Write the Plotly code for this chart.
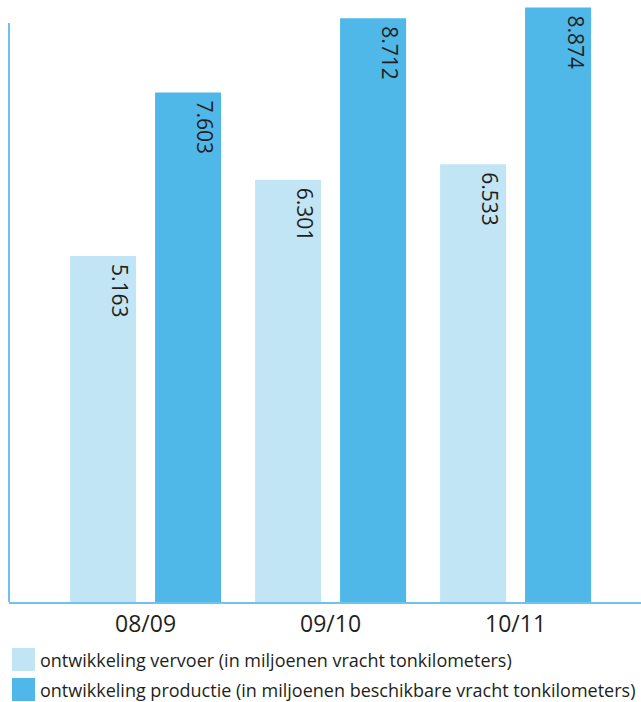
import plotly.graph_objects as go

# Seizoenen en waarden (in miljoenen tonkilometers)
seizoenen = ["08/09", "09/10", "10/11"]
vervoer = [5.163, 6.301, 6.533]
productie = [7.603, 8.712, 8.874]

reeks_namen = [
    "ontwikkeling vervoer (in miljoenen vracht tonkilometers)",
    "ontwikkeling productie (in miljoenen beschikbare vracht tonkilometers)",
]
kleuren = ["#C2E5F6", "#4FB8E8"]
as_kleur = "#6CC4EC"
tekst_kleur = "#231F20"
lettertype = "Open Sans"

W, H = 641, 702
M_L, M_R, M_T, M_B = 9, 0, 0, 100
plot_w = W - M_L - M_R
plot_h = H - M_T - M_B


def px_x(x):
    return (x - M_L) / plot_w


def px_y(y):
    return (H - M_B - y) / plot_h


fig = go.Figure()

reeksen = [vervoer, productie]
offsets = [-0.408, 0.0514]
breedte = 0.357
label_shift = [-25.5, 59.5]

for naam, waarden, kleur, off in zip(reeks_namen, reeksen, kleuren, offsets):
    fig.add_trace(go.Bar(
        x=seizoenen, y=waarden, name=naam,
        marker=dict(color=kleur, line=dict(width=0)),
        width=breedte, offset=off, showlegend=False,
    ))

# waardelabels, gedraaid, bovenin de staaf
for waarden, dx in zip(reeksen, label_shift):
    for s, v in zip(seizoenen, waarden):
        fig.add_annotation(
            x=s, y=v, xref="x", yref="y",
            text=f"{v:.3f}", textangle=90, showarrow=False,
            xanchor="center", yanchor="top", xshift=dx, yshift=-6,
            font=dict(family=lettertype, size=21, color=tekst_kleur),
        )

# linker as
fig.add_shape(type="line", xref="paper", yref="paper",
              x0=0, x1=0, y0=0, y1=px_y(23),
              line=dict(color=as_kleur, width=2))

# legenda onder de grafiek
legenda_y = [659.5, 689.5]
for naam, kleur, yc in zip(reeks_namen, kleuren, legenda_y):
    fig.add_shape(type="rect", xref="paper", yref="paper",
                  x0=px_x(12), x1=px_x(35), y0=px_y(yc + 11.5), y1=px_y(yc - 11.5),
                  fillcolor=kleur, line=dict(width=0))
    fig.add_annotation(
        x=px_x(38), y=px_y(yc), xref="paper", yref="paper",
        text=naam, showarrow=False, xanchor="left", yanchor="middle",
        font=dict(family=lettertype, size=18, color=tekst_kleur),
    )

fig.update_layout(
    width=W, height=H,
    margin=dict(l=M_L, r=M_R, t=M_T, b=M_B),
    paper_bgcolor="white", plot_bgcolor="white",
    barmode="group",
    xaxis=dict(
        type="category", range=[-0.738, 2.678],
        showline=True, linecolor=as_kleur, linewidth=2,
        showgrid=False, zeroline=False, ticks="",
        tickfont=dict(family=lettertype, size=23, color=tekst_kleur),
    ),
    yaxis=dict(
        range=[0, plot_h / 67.0],
        showline=False, showgrid=False, zeroline=False,
        showticklabels=False, ticks="",
    ),
)

fig.write_html("out.html")
